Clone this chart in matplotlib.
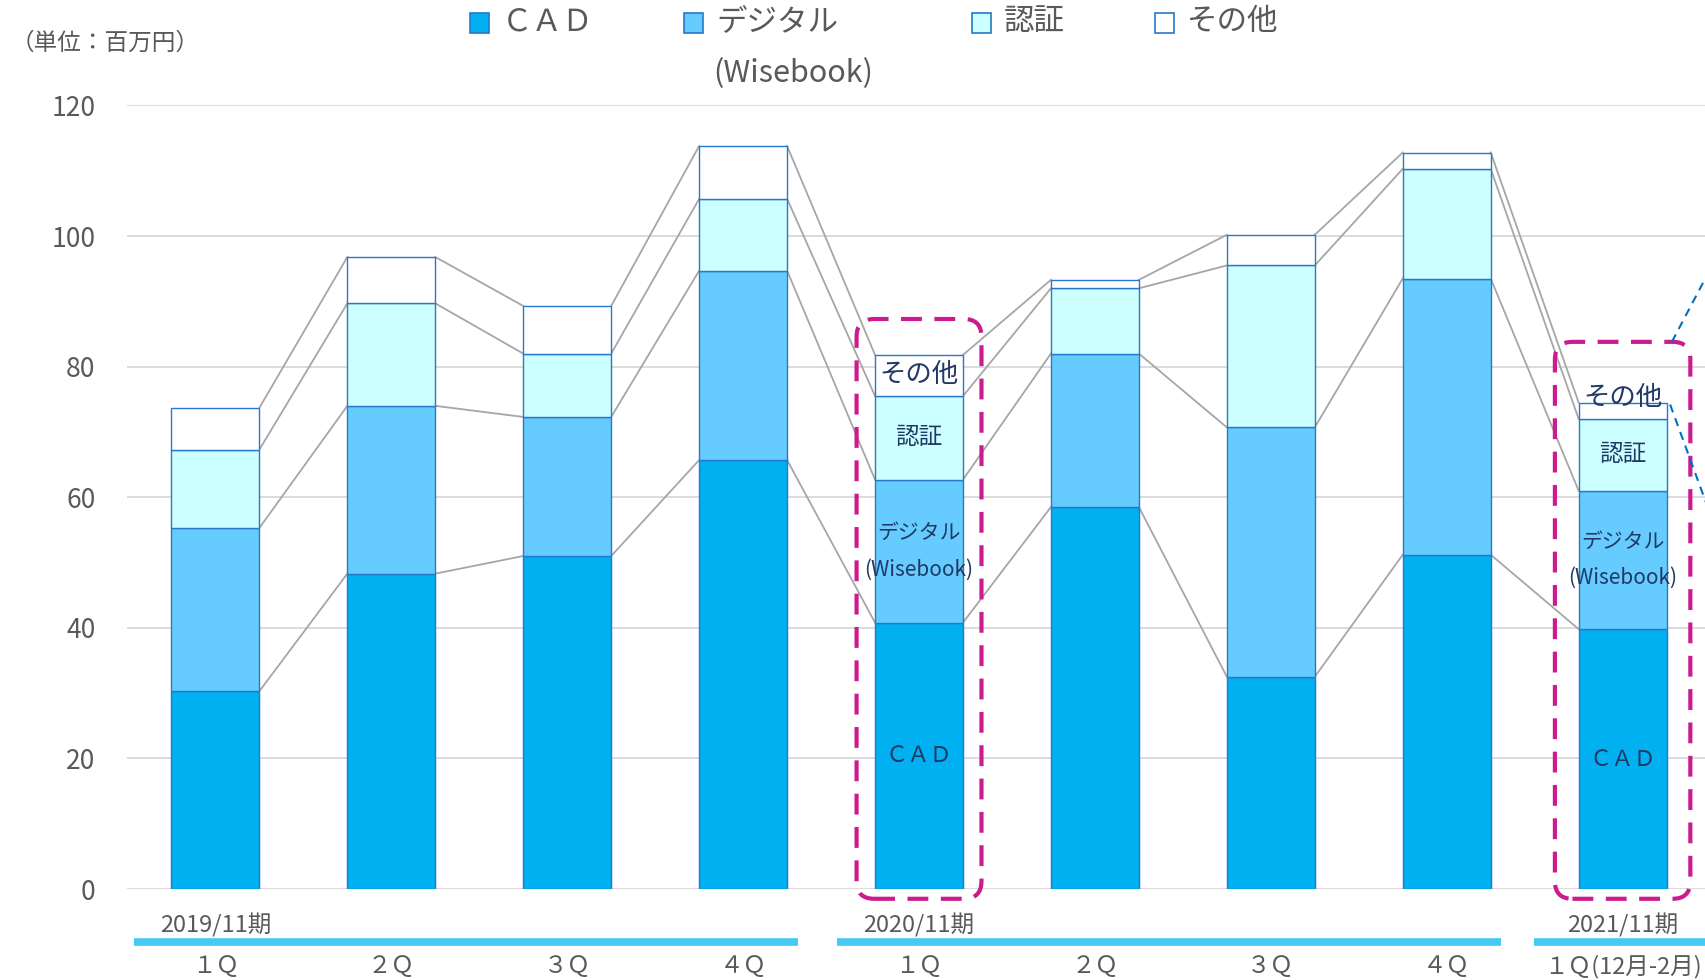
import matplotlib
matplotlib.use("Agg")
import matplotlib.pyplot as plt
from matplotlib.patches import FancyBboxPatch, Rectangle
import numpy as np

plt.rcParams['font.family'] = ['Noto Sans CJK JP', 'DejaVu Sans']

# --- data (百万円) ------------------------------------------------------------
QUARTERS = ["１Ｑ", "２Ｑ", "３Ｑ", "４Ｑ", "１Ｑ", "２Ｑ", "３Ｑ", "４Ｑ", "１Ｑ(12月-2月)"]
PERIODS = ["2019/11期", "2020/11期", "2021/11期"]
PERIOD_FIRST = [0, 4, 8]
PERIOD_LAST = [3, 7, 8]

SERIES = ["ＣＡＤ", "デジタル", "認証", "その他"]
cad     = [30.3, 48.3, 51.0, 65.7, 40.8, 58.5, 32.5, 51.2, 39.8]
digital = [25.0, 25.7, 21.3, 29.0, 21.9, 23.5, 38.2, 42.3, 21.2]
cert    = [12.0, 15.7,  9.7, 11.0, 12.8, 10.0, 24.8, 16.8, 11.0]
other   = [ 6.4,  7.1,  7.3,  8.1,  6.3,  1.3,  4.7,  2.5,  2.5]

HIGHLIGHT = [4, 8]

# --- style --------------------------------------------------------------------
COLORS = ["#00B0F0", "#66CCFF", "#CCFFFF", "#FFFFFF"]
C_EDGE = "#2778C8"
C_GRID = "#D9D9D9"
C_TEXT = "#595959"
C_NAVY = "#203864"
C_MAG = "#CC1A8F"
C_PERIOD = "#47C9F5"
C_LINK = "#A6A6A6"
BAR_W = 0.5

fig = plt.figure(figsize=(17.06, 9.8), dpi=100)
ax = fig.add_axes([127.3 / 1706, 1 - 889 / 980, 1 - 127.3 / 1706, (889 - 105.5) / 980])

x = np.arange(len(QUARTERS))
layers = [np.array(cad), np.array(digital), np.array(cert), np.array(other)]
bottom = np.zeros(len(x))
tops = []
for vals, col in zip(layers, COLORS):
    ax.bar(x, vals, BAR_W, bottom=bottom, color=col, edgecolor=C_EDGE,
           linewidth=1.0, zorder=3)
    bottom = bottom + vals
    tops.append(bottom.copy())

# connector lines between bars
for lvl in tops:
    for i in range(len(x) - 1):
        ax.plot([x[i] + BAR_W / 2, x[i + 1] - BAR_W / 2], [lvl[i], lvl[i + 1]],
                color=C_LINK, lw=1.3, zorder=2)

ax.set_xlim(-0.501, 8.474)
ax.set_ylim(0, 120)
ax.set_yticks(range(0, 121, 20))
ax.tick_params(axis="y", length=0, pad=23, labelsize=19, labelcolor=C_TEXT)
ax.set_xticks([])
ax.yaxis.grid(True, color=C_GRID, lw=1.3)
ax.set_axisbelow(True)
for s in ax.spines.values():
    s.set_visible(False)

# category / period labels
xt = ax.get_xaxis_transform()
for i, q in enumerate(QUARTERS):
    ax.text(i, -0.099, q, transform=xt, ha="center", va="center",
            fontsize=17, color=C_TEXT)
for name, a, b in zip(PERIODS, PERIOD_FIRST, PERIOD_LAST):
    ax.text(a, -0.047, name, transform=xt, ha="center", va="center",
            fontsize=17, color=C_TEXT)
    start = a - (0.465 if b > a else 0.503)
    end = b + 0.31 if b > a else 9.0
    ax.plot([start, end], [-0.068, -0.068],
            transform=xt, color=C_PERIOD, lw=5.5, solid_capstyle="butt",
            clip_on=False)

# highlighted bars: dashed rounded box + in-bar labels
aspect = (175.9 / (783.5 / 120))
for i, half, extra in [(4, 0.355, 5.5), (8, 0.385, 9.3)]:
    top = tops[-1][i] + extra
    box = FancyBboxPatch((i - half, -1.5), 2 * half, top + 1.5,
                         boxstyle="round,pad=0,rounding_size=0.1",
                         mutation_aspect=aspect, fill=False, edgecolor=C_MAG,
                         lw=3.0, linestyle=(0, (5, 3)), zorder=5, clip_on=False)
    ax.add_patch(box)
    ax.text(i, tops[0][i] / 2, "ＣＡＤ", ha="center", va="center",
            fontsize=16, color=C_NAVY, zorder=6)
    mid = (tops[0][i] + tops[1][i]) / 2
    ax.text(i, mid + 2.8, "デジタル", ha="center", va="center",
            fontsize=15, color=C_NAVY, zorder=6)
    ax.text(i, mid - 2.8, "(Wisebook)", ha="center", va="center",
            fontsize=15, color=C_NAVY, zorder=6, clip_on=False)
    ax.text(i, (tops[1][i] + tops[2][i]) / 2, "認証", ha="center", va="center",
            fontsize=17, color=C_NAVY, zorder=6)
    ax.text(i, tops[2][i] + 3.3, "その他", ha="center", va="center",
            fontsize=19, color=C_NAVY, zorder=6)

# dashed callout lines leaving the right edge
C_CALL = "#0070C0"
ax.plot([8.28, 8.28 + 0.19 * 2], [tops[-1][8] + 9.3, tops[-1][8] + 9.3 + 9.7 * 2],
        color=C_CALL, lw=1.5, ls=(0, (4, 3)), zorder=6, clip_on=False)
ax.plot([8.27, 8.27 + 0.204 * 2], [tops[-1][8] - 0.3, tops[-1][8] - 0.3 - 15 * 2],
        color=C_CALL, lw=1.5, ls=(0, (4, 3)), zorder=6, clip_on=False)

# legend (manual, top)
fw, fh = 1706.0, 980.0
leg = [(470, "ＣＡＤ"), (684, "デジタル"), (972, "認証"), (1155, "その他")]
for (px, lab), col in zip(leg, COLORS):
    fig.patches.append(Rectangle((px / fw, 1 - 33 / fh), 19 / fw, 20 / fh,
                                 transform=fig.transFigure, facecolor=col,
                                 edgecolor=C_EDGE, lw=1.2))
    fig.text((px + 32) / fw, 1 - 22 / fh, lab, ha="left", va="center",
             fontsize=22, color=C_TEXT)
fig.text(713 / fw, 1 - 74 / fh, "(Wisebook)", ha="left", va="center",
         fontsize=22, color=C_TEXT)

fig.text(11 / fw, 1 - 43.5 / fh, "（単位：百万円）", ha="left", va="center",
         fontsize=17, color=C_TEXT)

fig.savefig("out.png", dpi=100)
